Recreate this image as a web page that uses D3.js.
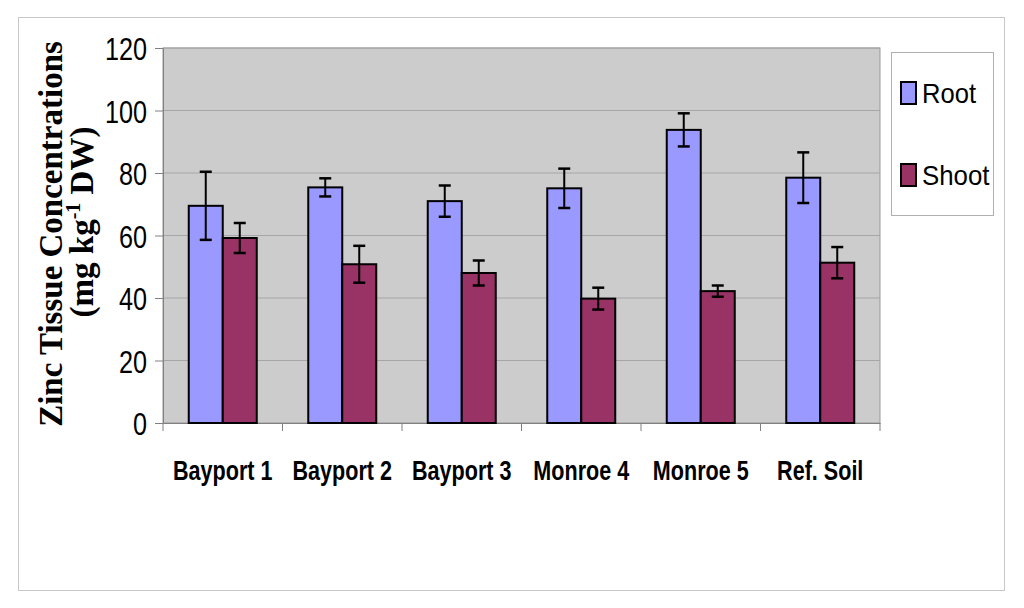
<!DOCTYPE html>
<html><head><meta charset="utf-8">
<script src="https://cdn.jsdelivr.net/npm/d3@7"></script>
<style>body{margin:0;background:#fff}svg{display:block}</style>
</head><body>
<svg id="c" width="1024" height="608"></svg>
<script>
const categories = ["Bayport 1","Bayport 2","Bayport 3","Monroe 4","Monroe 5","Ref. Soil"];
const seriesNames = ["Root","Shoot"];
const rootValues = [69.5, 75.4, 71.0, 75.1, 93.8, 78.5];
const rootErrors = [10.9, 2.9, 5.0, 6.3, 5.3, 8.1];
const shootValues = [59.2, 50.8, 48.0, 39.8, 42.2, 51.3];
const shootErrors = [4.8, 5.9, 4.0, 3.5, 1.8, 5.0];
const yTicks = [0, 20, 40, 60, 80, 100, 120];
const colors = ["#9999ff", "#993366"];

const svg = d3.select("#c");
// outer frame
svg.append("rect").attr("x",18.5).attr("y",17.5).attr("width",986).attr("height",573)
  .attr("fill","#fff").attr("stroke","#c8c8c8").attr("stroke-width",1);

const L=163, R=880, T=48, B=423;
const x = d3.scaleBand().domain(categories).range([L,R]).paddingInner(0).paddingOuter(0);
const y = d3.scaleLinear().domain([0,120]).range([B,T]);
const groupW = 68;
const xs = d3.scaleBand().domain(seriesNames).range([0,groupW]);

// plot background
svg.append("rect").attr("x",L).attr("y",T).attr("width",R-L).attr("height",B-T)
  .attr("fill","#cccccc").attr("stroke","#999").attr("stroke-width",1);

// gridlines
svg.append("g").selectAll("line").data(yTicks.filter(d=>d>0)).join("line")
  .attr("x1",L).attr("x2",R).attr("y1",d=>y(d)).attr("y2",d=>y(d))
  .attr("stroke","#a6a6a6").attr("stroke-width",1);

// y axis
const yAxis = svg.append("g").attr("transform",`translate(${L},0)`)
  .call(d3.axisLeft(y).tickValues(yTicks).tickSize(8).tickPadding(8).tickFormat(d3.format("d")));
yAxis.select(".domain").attr("stroke","#808080");
yAxis.selectAll(".tick line").attr("stroke","#808080");
yAxis.selectAll(".tick text").attr("font-family","Liberation Sans, Arial, sans-serif")
  .attr("font-size",32).attr("fill","#000").attr("dy","0.36em")
  .each(function(d){ const n=String(d).length; d3.select(this).attr("textLength", n*14).attr("lengthAdjust","spacingAndGlyphs"); });

// x axis
const xAxis = svg.append("g").attr("transform",`translate(0,${B})`)
  .call(d3.axisBottom(x).tickSize(0).tickFormat(""));
xAxis.select(".domain").attr("stroke","#808080");
const bounds = categories.map(c=>x(c)).concat([R]);
svg.append("g").selectAll("line").data(bounds).join("line")
  .attr("x1",d=>d).attr("x2",d=>d).attr("y1",B).attr("y2",B+8).attr("stroke","#808080");

// x labels (condensed)
svg.append("g").selectAll("text").data(categories).join("text")
  .attr("x",d=>x(d)+x.bandwidth()/2).attr("y",480)
  .attr("text-anchor","middle").attr("font-family","Liberation Sans, Arial, sans-serif")
  .attr("font-size",28).attr("font-weight","bold").attr("fill","#000")
  .text(d=>d)
  .each(function(){ const w=this.getComputedTextLength(); d3.select(this).attr("textLength", w*0.77).attr("lengthAdjust","spacingAndGlyphs"); });

// bars
const data = [
  {name:"Root", values:rootValues, errors:rootErrors, color:colors[0]},
  {name:"Shoot", values:shootValues, errors:shootErrors, color:colors[1]}
];
const gBars = svg.append("g");
data.forEach(s=>{
  categories.forEach((c,i)=>{
    const bx = x(c) + (x.bandwidth()-groupW)/2 + xs(s.name);
    const v = s.values[i], e = s.errors[i];
    gBars.append("rect").attr("x",bx).attr("y",y(v)).attr("width",xs.bandwidth()).attr("height",y(0)-y(v))
      .attr("fill",s.color).attr("stroke","#000").attr("stroke-width",2);
    const cx = bx + xs.bandwidth()/2;
    gBars.append("line").attr("x1",cx).attr("x2",cx).attr("y1",y(v+e)).attr("y2",y(v-e)).attr("stroke","#000").attr("stroke-width",2);
    [v+e, v-e].forEach(t=>{
      gBars.append("line").attr("x1",cx-6).attr("x2",cx+6).attr("y1",y(t)).attr("y2",y(t)).attr("stroke","#000").attr("stroke-width",2.5);
    });
  });
});

// y-axis title
svg.append("text").attr("transform","translate(62,234) rotate(-90)")
  .attr("font-family","Liberation Serif, Times New Roman, serif").attr("font-weight","bold").attr("font-size",33)
  .attr("text-anchor","middle").attr("fill","#000").text("Zinc Tissue Concentrations");
const t2 = svg.append("text").attr("transform","translate(93,222) rotate(-90)")
  .attr("font-family","Liberation Serif, Times New Roman, serif").attr("font-weight","bold").attr("font-size",33)
  .attr("text-anchor","middle").attr("fill","#000");
t2.append("tspan").text("(mg kg");
t2.append("tspan").attr("font-size",20).attr("dy",-13).text("-1");
t2.append("tspan").attr("dy",13).text(" DW)");

// legend
svg.append("rect").attr("x",891.5).attr("y",52.5).attr("width",102).attr("height",163)
  .attr("fill","#fff").attr("stroke","#b0b0b0").attr("stroke-width",1);
const legY = [93, 175];
data.forEach((s,i)=>{
  svg.append("rect").attr("x",901).attr("y",legY[i]-11).attr("width",15).attr("height",22)
    .attr("fill",s.color).attr("stroke","#000").attr("stroke-width",2);
  svg.append("text").attr("x",922).attr("y",legY[i]+10)
    .attr("font-family","Liberation Sans, Arial, sans-serif").attr("font-size",28).attr("fill","#000")
    .attr("textLength", s.name.length*13.5).attr("lengthAdjust","spacingAndGlyphs")
    .text(s.name);
});
</script>
</body></html>
